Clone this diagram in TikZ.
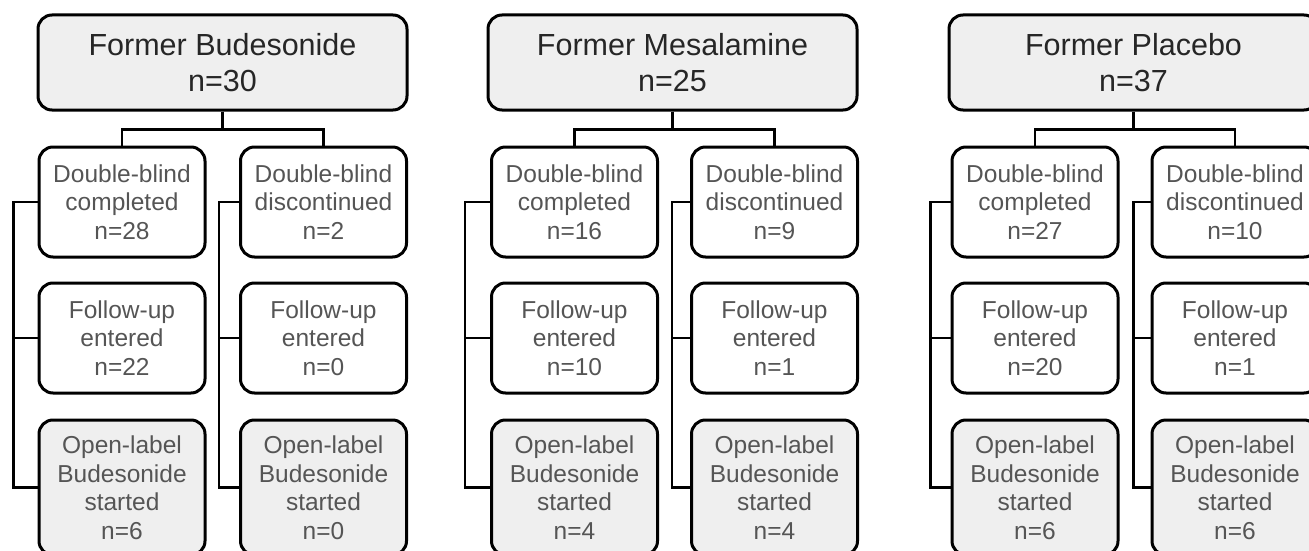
\documentclass[tikz,border=0pt]{standalone}
\usepackage{fontspec}
\setmainfont{Liberation Sans}
\definecolor{boxgray}{HTML}{EFEFEF}
\definecolor{txtgray}{HTML}{555555}
\begin{document}
\begin{tikzpicture}[
  x=1pt, y=-1pt,
  every node/.style={draw, rounded corners=14pt, line width=3pt, align=center, inner sep=0pt},
  headbox/.style={fill=boxgray, minimum width=369pt, minimum height=95pt, font=\fontsize{30.5}{36}\selectfont, text=black!85},
  stagebox/.style={minimum width=166pt, minimum height=110pt, font=\fontsize{24.5}{28.5}\selectfont, text=txtgray},
  openbox/.style={stagebox, fill=boxgray, minimum height=135pt}
]
\tikzset{
  link/.style={line width=2.8pt}
}
\clip (0,0) rectangle (1309,551);
% former budesonide
\node[headbox] (B) at (222.5,62.5) {Former Budesonide\\n=30};
\node[stagebox] (Bc) at (122,202) {Double-blind\\completed\\n=28};
\node[stagebox] (Bd) at (323.5,202) {Double-blind\\discontinued\\n=2};
\node[stagebox] (Bcf) at (122,338) {Follow-up\\entered\\n=22};
\node[stagebox] (Bdf) at (323.5,338) {Follow-up\\entered\\n=0};
\node[openbox] (Bco) at (122,487.5) {Open-label\\Budesonide\\started\\n=6};
\node[openbox] (Bdo) at (323.5,487.5) {Open-label\\Budesonide\\started\\n=0};
% former mesalamine
\node[headbox] (M) at (672.5,62.5) {Former Mesalamine\\n=25};
\node[stagebox] (Mc) at (574.5,202) {Double-blind\\completed\\n=16};
\node[stagebox] (Md) at (774.5,202) {Double-blind\\discontinued\\n=9};
\node[stagebox] (Mcf) at (574.5,338) {Follow-up\\entered\\n=10};
\node[stagebox] (Mdf) at (774.5,338) {Follow-up\\entered\\n=1};
\node[openbox] (Mco) at (574.5,487.5) {Open-label\\Budesonide\\started\\n=4};
\node[openbox] (Mdo) at (774.5,487.5) {Open-label\\Budesonide\\started\\n=4};
% former placebo
\node[headbox] (P) at (1133.5,62.5) {Former Placebo\\n=37};
\node[stagebox] (Pc) at (1035,202) {Double-blind\\completed\\n=27};
\node[stagebox] (Pd) at (1235,202) {Double-blind\\discontinued\\n=10};
\node[stagebox] (Pcf) at (1035,338) {Follow-up\\entered\\n=20};
\node[stagebox] (Pdf) at (1235,338) {Follow-up\\entered\\n=1};
\node[openbox] (Pco) at (1035,487.5) {Open-label\\Budesonide\\started\\n=6};
\node[openbox] (Pdo) at (1235,487.5) {Open-label\\Budesonide\\started\\n=6};
% connectors
\foreach \g/\l/\r in {B/24/20, M/25/18, P/20/17} {
  \draw[link] (\g.south) -- ++(0,18) -| (\g c.north);
  \draw[link] (\g.south) -- ++(0,18) -| (\g d.north);
  \draw[link] (\g c.west) -- ++(-\l,0) |- (\g co.west);
  \draw[link] (\g cf.west) -- ++(-\l,0);
  \draw[link] (\g d.west) -- ++(-\r,0) |- (\g do.west);
  \draw[link] (\g df.west) -- ++(-\r,0);
}
\end{tikzpicture}
\end{document}
